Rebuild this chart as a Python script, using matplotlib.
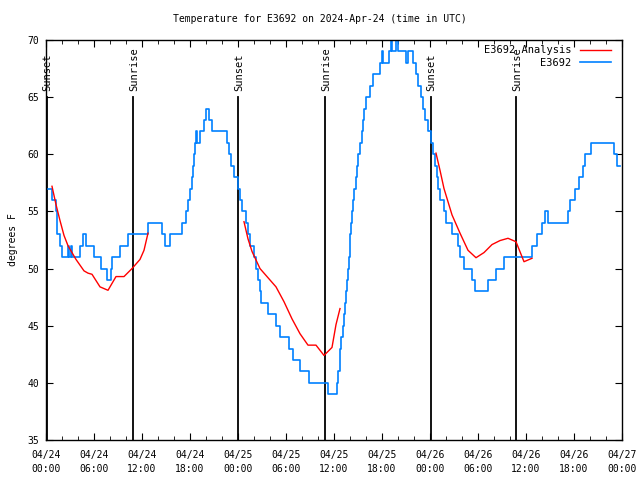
import matplotlib
matplotlib.use('Agg')
import matplotlib.pyplot as plt

# time axis in hours since 2024-04-24 00:00 UTC
# observed temperature (step changes)
obs_t = [0.0, 0.75, 1.3, 1.4, 1.8, 2.05, 2.7, 2.9, 3.1, 3.3, 4.25, 4.6, 5.0, 6.0, 6.9, 7.6, 8.1, 8.3,
         9.2, 10.2, 12.7, 14.45, 14.9, 15.5, 17.0, 17.5, 17.75, 18.0, 18.25, 18.4, 18.5, 18.6, 18.75,
         18.9, 19.2, 19.7, 20.0, 20.4, 20.7, 22.6, 22.9, 23.1, 23.5, 24.0, 24.25, 24.5, 25.0, 25.25,
         25.5, 26.0, 26.25, 26.5, 26.75, 26.9, 27.7, 28.7, 29.3, 30.4, 30.9, 31.7, 32.9, 35.2, 36.4,
         36.56, 36.7, 36.8, 36.9, 37.1, 37.25, 37.4, 37.5, 37.6, 37.75, 37.9, 37.95, 38.05, 38.1,
         38.25, 38.4, 38.5, 38.7, 38.9, 39.05, 39.25, 39.45, 39.6, 39.8, 40.05, 40.5, 40.9, 41.75,
         41.95, 42.1, 42.9, 43.1, 43.3, 43.75, 44.0, 45.0, 45.3, 45.9, 46.25, 46.5, 46.9, 47.1, 47.4,
         47.75, 48.1, 48.4, 48.6, 48.9, 49.05, 49.25, 49.8, 50.0, 50.75, 51.5, 51.75, 52.3, 53.3,
         53.6, 55.2, 56.3, 57.3, 60.8, 61.4, 62.0, 62.4, 62.75, 65.2, 65.5, 66.1, 66.6, 67.1, 67.4,
         68.1, 71.0, 71.4, 71.75]
obs_v = [57, 56, 55, 53, 52, 51, 52, 51, 52, 51, 52, 53, 52, 51, 50, 49, 50, 51,
         52, 53, 54, 53, 52, 53, 54, 55, 56, 57, 58, 59, 60, 61, 62,
         61, 62, 63, 64, 63, 62, 61, 60, 59, 58, 57, 56, 55, 54, 53,
         52, 51, 50, 49, 48, 47, 46, 45, 44, 43, 42, 41, 40, 39, 40,
         41, 42, 43, 44, 45, 46, 47, 48, 49, 50, 51, 52, 53, 54,
         55, 56, 57, 58, 59, 60, 61, 62, 63, 64, 65, 66, 67, 68,
         69, 68, 69, 70, 69, 70, 69, 68, 69, 68, 67, 66, 65, 64, 63,
         62, 61, 60, 59, 58, 57, 56, 55, 54, 53, 52, 51, 50, 49,
         48, 49, 50, 51, 52, 53, 54, 55, 54, 55, 56, 57, 58, 59, 60,
         61, 60, 59, 59]

# analysis runs
ana1_t = [0.75, 1.25, 1.75, 2.25, 2.75, 3.75, 4.75, 5.25, 5.75, 6.75, 7.75, 8.75, 9.75, 10.75, 11.75, 12.25, 12.75]
ana1_v = [57.2, 55.6, 54.2, 52.9, 52.0, 50.8, 49.8, 49.6, 49.5, 48.4, 48.1, 49.3, 49.3, 50.0, 50.8, 51.6, 53.1]
ana2_t = [24.75, 25.25, 25.75, 26.75, 27.75, 28.75, 29.75, 30.75, 31.75, 32.75, 33.75, 34.75, 35.75, 36.25, 36.75]
ana2_v = [54.1, 52.6, 51.5, 50.0, 49.2, 48.4, 47.1, 45.6, 44.3, 43.3, 43.3, 42.4, 43.1, 45.1, 46.5]
ana3_t = [48.75, 49.25, 49.75, 50.75, 51.75, 52.75, 53.75, 54.75, 55.75, 56.75, 57.75, 58.75, 59.75, 60.75]
ana3_v = [60.1, 58.6, 57.0, 54.7, 53.1, 51.6, 50.95, 51.4, 52.1, 52.45, 52.65, 52.35, 50.6, 50.9]

sunset_t = [0.1, 24.0, 48.1]
sunrise_t = [10.9, 34.9, 58.75]

xtick_labels = ['04/24\n00:00', '04/24\n06:00', '04/24\n12:00', '04/24\n18:00',
                '04/25\n00:00', '04/25\n06:00', '04/25\n12:00', '04/25\n18:00',
                '04/26\n00:00', '04/26\n06:00', '04/26\n12:00', '04/26\n18:00',
                '04/27\n00:00']

plt.rcParams['font.family'] = 'DejaVu Sans Mono'
plt.rcParams['font.size'] = 7

fig = plt.figure(figsize=(6.4, 4.8), dpi=100)
ax = fig.add_axes([46 / 640, 40 / 480, 576 / 640, 400 / 480])

blue = '#0080ff'
red = '#ff0000'

# sunrise / sunset markers
for t in sunset_t:
    ax.plot([t, t], [35, 65], color='black', lw=1.3)
    ax.text(t + 0.1, 65.5, 'Sunset', rotation=90, ha='center', va='bottom', fontsize=7.5)
for t in sunrise_t:
    ax.plot([t, t], [35, 65], color='black', lw=1.3)
    ax.text(t + 0.1, 65.5, 'Sunrise', rotation=90, ha='center', va='bottom', fontsize=7.5)

h_obs, = ax.plot(obs_t, obs_v, color=blue, lw=1.2, drawstyle='steps-post', label='E3692')
h_ana, = ax.plot(ana1_t, ana1_v, color=red, lw=1.0, label='E3692 Analysis')
ax.plot(ana2_t, ana2_v, color=red, lw=1.0)
ax.plot(ana3_t, ana3_v, color=red, lw=1.0)

ax.set_xlim(0, 72)
ax.set_ylim(35, 70)
ax.set_xticks(range(0, 73, 6))
ax.set_xticklabels(xtick_labels, linespacing=1.5)
ax.set_xticks(range(0, 73, 2), minor=True)
ax.set_yticks(range(35, 71, 5))
ax.tick_params(which='both', direction='in', top=True, right=True, color='black')
ax.tick_params(axis='x', which='major', length=5, pad=7)
ax.tick_params(axis='y', which='major', length=5, pad=5)
ax.tick_params(which='minor', length=3)
for s in ax.spines.values():
    s.set_linewidth(1.0)

ax.set_ylabel('degrees F', labelpad=7)
fig.text(0.5, 1 - 19 / 480, 'Temperature for E3692 on 2024-Apr-24 (time in UTC)',
         ha='center', va='center')

ax.legend([h_ana, h_obs], ['E3692 Analysis', 'E3692'], loc='upper right', frameon=False,
          markerfirst=False, handlelength=3.0, borderaxespad=0.0, labelspacing=0.25,
          handletextpad=0.8, borderpad=0.5, fontsize=7.5,
          bbox_to_anchor=(1 - 6 / 576, 1.0))

fig.savefig('out.png', dpi=100)
